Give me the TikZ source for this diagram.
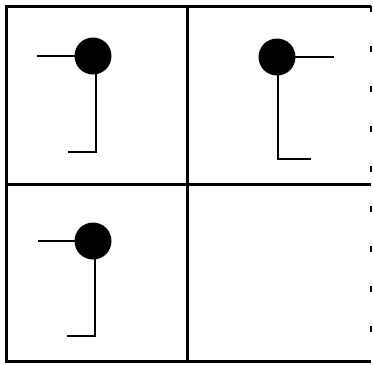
\documentclass[tikz,border=0pt]{standalone}
\begin{document}
\begin{tikzpicture}[x=1pt,y=-1pt,
  frame/.style={line width=3pt},
  stem/.style={line width=2.8pt},
  ball/.style={circle,fill=black,inner sep=0pt,minimum size=37pt}]
\useasboundingbox (0,0) rectangle (373,365);
% grid
\coordinate (tl) at (6,6);
\coordinate (tr) at (371,6);
\coordinate (ml) at (6,184);
\coordinate (mr) at (371,184);
\coordinate (bl) at (6,361);
\coordinate (br) at (371,361);
\coordinate (mt) at (187,6);
\coordinate (mb) at (187,361);
\draw[frame] (tr) -- (tl) -- (bl) -- (br);
\draw[frame] (ml) -- (mr);
\draw[frame] (mt) -- (mb);
\draw[line width=2.2pt,dash pattern=on 6pt off 34pt] (tr) -- (br);
% panel 1
\node[ball] (b1) at (93,56) {};
\coordinate (a1) at (37,56);
\coordinate (s1) at (96,152);
\coordinate (f1) at (68,152);
\draw[stem] (a1) -- (b1.center);
\draw[stem] (b1.center -| s1) -- (s1) -- (f1);
% panel 2
\node[ball] (b2) at (277,57) {};
\coordinate (a2) at (334,57);
\coordinate (s2) at (278,159);
\coordinate (f2) at (311,159);
\draw[stem] (b2.center) -- (a2);
\draw[stem] (b2.center -| s2) -- (s2) -- (f2);
% panel 3
\node[ball] (b3) at (93,241) {};
\coordinate (a3) at (38,241);
\coordinate (s3) at (95,336);
\coordinate (f3) at (67,336);
\draw[stem] (a3) -- (b3.center);
\draw[stem] (b3.center -| s3) -- (s3) -- (f3);
\end{tikzpicture}
\end{document}
